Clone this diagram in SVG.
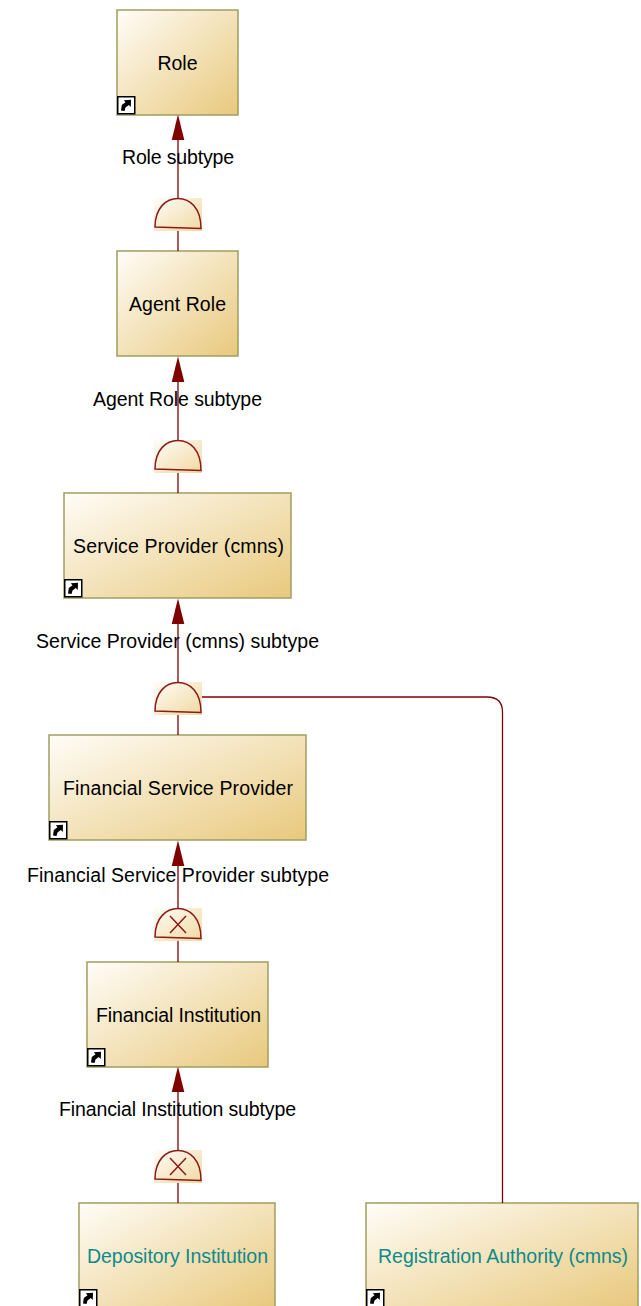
<svg xmlns="http://www.w3.org/2000/svg" xmlns:xlink="http://www.w3.org/1999/xlink" width="641" height="1306" viewBox="0 0 641 1306">
<style>
text{font-family:"Liberation Sans",Arial,sans-serif;font-size:19.5px;fill:#000;text-anchor:middle}
.teal{fill:#0e8a8a}
.box{fill:url(#nodeGrad);stroke:#9f9e60;stroke-width:1.5}
.wire{fill:none;stroke:#800000;stroke-width:1.3}
.gate{fill:none;stroke:#8b1a1a;stroke-width:1.5}
.gbg{fill:url(#gateGrad)}
.iconbox{fill:#fff;stroke:#000;stroke-width:1.5}
.head{fill:#800000}
</style>
<defs>
<linearGradient id="nodeGrad" x1="0" y1="0" x2="1" y2="1"><stop offset="0" stop-color="#fffdf8"/><stop offset="1" stop-color="#e8c87c"/></linearGradient>
<linearGradient id="gateGrad" x1="0" y1="0" x2="1" y2="1"><stop offset="0" stop-color="#fffdf8"/><stop offset="1" stop-color="#f0d8a0"/></linearGradient>
<path id="head" class="head" d="M178 0 L184.3 25.5 L171.7 25.5 Z"/>
<g id="gatePlain"><rect class="gbg" x="154" y="0" width="48" height="33"/><path class="gate" d="M155 29 C155 10 166 0.5 178 0.5 C190 0.5 201 10 201 30.5 L155 29 Z"/></g>
<g id="gateX"><use xlink:href="#gatePlain"/><path class="gate" d="M170 8 L186 25 M186 8 L170 25"/></g>
<g id="icon"><rect class="iconbox" x="0.75" y="0.75" width="17" height="17"/><path d="M4 14.5 L4.8 9 L8.5 6.2 L6.8 4.2 L14 3.8 L13.8 11 L11.8 9 L8.5 11.4 L7.5 15 Z" fill="#000"/></g>
</defs>
<g id="role"><rect class="box" x="117" y="10" width="121" height="105"/><text x="177.5" y="70" textLength="40">Role</text><use xlink:href="#icon" x="117" y="96"/></g>
<g id="agent-role"><rect class="box" x="117" y="251" width="121" height="105"/><text x="177.5" y="311" textLength="97">Agent Role</text></g>
<g id="service-provider"><rect class="box" x="64" y="493" width="227" height="105"/><text x="178.5" y="553" textLength="211">Service Provider (cmns)</text><use xlink:href="#icon" x="64" y="579"/></g>
<g id="financial-service-provider"><rect class="box" x="49" y="735" width="257" height="105"/><text x="178" y="795" textLength="230">Financial Service Provider</text><use xlink:href="#icon" x="49" y="821"/></g>
<g id="financial-institution"><rect class="box" x="87" y="962" width="181" height="105"/><text x="178.5" y="1022" textLength="165">Financial Institution</text><use xlink:href="#icon" x="87" y="1048"/></g>
<g id="depository-institution"><rect class="box" x="79" y="1203" width="196" height="105"/><text class="teal" x="177.5" y="1263" textLength="181">Depository Institution</text><use xlink:href="#icon" x="79" y="1289"/></g>
<g id="registration-authority"><rect class="box" x="366" y="1203" width="272" height="105"/><text class="teal" x="503" y="1263" textLength="250">Registration Authority (cmns)</text><use xlink:href="#icon" x="366" y="1289"/></g>
<g id="connectors">
<path class="wire" d="M178 251 V231"/><path class="wire" d="M178 198 V135"/>
<path class="wire" d="M178 493 V473"/><path class="wire" d="M178 440 V377"/>
<path class="wire" d="M178 735 V715"/><path class="wire" d="M178 682 V619"/>
<path class="wire" d="M178 962 V941"/><path class="wire" d="M178 908 V861"/>
<path class="wire" d="M178 1203 V1183"/><path class="wire" d="M178 1150 V1087"/>
<path class="wire" d="M502.5 1203 V712 Q502.5 697 487 697 H202"/>
<use xlink:href="#head" y="114.5"/>
<use xlink:href="#head" y="356.5"/>
<use xlink:href="#head" y="598.5"/>
<use xlink:href="#head" y="840.5"/>
<use xlink:href="#head" y="1066.5"/>
<use xlink:href="#gatePlain" y="198"/>
<use xlink:href="#gatePlain" y="440"/>
<use xlink:href="#gatePlain" y="682"/>
<use xlink:href="#gateX" y="908"/>
<use xlink:href="#gateX" y="1150"/>
<text x="178" y="164" textLength="112">Role subtype</text>
<text x="177.5" y="406" textLength="169">Agent Role subtype</text>
<text x="177.5" y="648" textLength="283">Service Provider (cmns) subtype</text>
<text x="178" y="882" textLength="302">Financial Service Provider subtype</text>
<text x="177.5" y="1116" textLength="237">Financial Institution subtype</text>
</g>
</svg>
